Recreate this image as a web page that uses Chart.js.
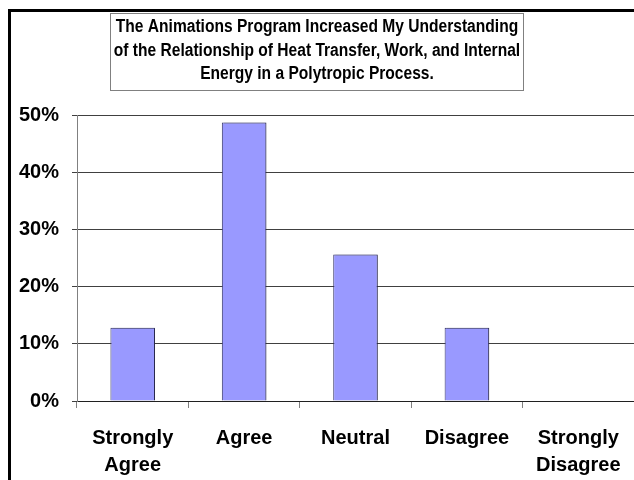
<!DOCTYPE html>
<html>
<head>
<meta charset="utf-8">
<script src="https://cdn.jsdelivr.net/npm/chart.js@4.4.0/dist/chart.umd.min.js"></script>
<style>
  html, body { margin: 0; padding: 0; background: #fff; }
  canvas { display: block; }
</style>
</head>
<body>
<canvas id="chart" width="634" height="480"></canvas>
<script>
// Survey answers, percent of respondents
const categories = [['Strongly', 'Agree'], 'Agree', 'Neutral', 'Disagree', ['Strongly', 'Disagree']];
const shares = [12.8, 48.7, 25.6, 12.8, 0];
const yTicks = [0, 10, 20, 30, 40, 50];
const titleLines = [
  'The Animations Program Increased My Understanding',
  'of the Relationship of Heat Transfer, Work, and Internal',
  'Energy in a Polytropic Process.'
];

// Frame around the whole picture, boxed title in a condensed face
const framePlugin = {
  id: 'frame',
  beforeDraw(chart) {
    const ctx = chart.ctx;
    ctx.save();
    ctx.fillStyle = '#fff';
    ctx.fillRect(0, 0, chart.width, chart.height);
    ctx.strokeStyle = '#000';
    ctx.lineWidth = 3;
    ctx.beginPath();
    ctx.moveTo(9.5, chart.height);
    ctx.lineTo(9.5, 10.5);
    ctx.lineTo(chart.width, 10.5);
    ctx.stroke();
    ctx.strokeStyle = '#808080';
    ctx.lineWidth = 1;
    ctx.strokeRect(110.5, 13.5, 413, 77);

    // squeeze the text sideways, the original uses a narrow bold face
    ctx.font = 'bold 18px "Liberation Sans", Arial, sans-serif';
    ctx.fillStyle = '#000';
    ctx.textAlign = 'center';
    ctx.textBaseline = 'alphabetic';
    const cx = 317;
    const squeeze = 0.865;
    ctx.translate(cx, 0);
    ctx.scale(squeeze, 1);
    titleLines.forEach((line, i) => {
      ctx.fillText(line, 0, 32 + i * 23.5);
    });
    ctx.restore();
  }
};

// Light shadow on the right side of the bars
const shadowPlugin = {
  id: 'barShadow',
  beforeDatasetsDraw(chart) {
    const ctx = chart.ctx;
    ctx.save();
    ctx.shadowColor = 'rgba(0,0,0,0.25)';
    ctx.shadowOffsetX = 2;
    ctx.shadowOffsetY = 0;
    ctx.shadowBlur = 0;
  },
  afterDatasetsDraw(chart) {
    chart.ctx.restore();
  }
};

new Chart(document.getElementById('chart'), {
  type: 'bar',
  data: {
    labels: categories,
    datasets: [{
      data: shares,
      backgroundColor: '#9999ff',
      borderColor: '#333366',
      borderWidth: 1,
      barPercentage: 0.4,
      categoryPercentage: 1
    }]
  },
  options: {
    responsive: false,
    animation: false,
    layout: {
      padding: { left: 0, right: 0, top: 115, bottom: 0 }
    },
    plugins: {
      legend: { display: false },
      tooltip: { enabled: false },
      title: { display: false }
    },
    scales: {
      x: {
        afterFit(axis) {
          axis.height = 79;
          axis.paddingLeft = 0;
          axis.paddingRight = 0;
        },
        grid: {
          offset: true,
          drawOnChartArea: false,
          drawTicks: true,
          tickLength: 7,
          color: '#808080'
        },
        border: { color: '#202020', width: 1 },
        ticks: {
          color: '#000',
          maxRotation: 0,
          autoSkip: false,
          padding: 17,
          font: { family: '"Liberation Sans", Arial, sans-serif', size: 20, weight: 'bold', lineHeight: 1.35 }
        }
      },
      y: {
        min: 0,
        max: 50,
        afterBuildTicks(axis) {
          axis.ticks = yTicks.map(v => ({ value: v }));
        },
        afterFit(axis) { axis.width = 77; },
        grid: {
          color: '#404040',
          tickLength: 5
        },
        border: { color: '#808080', width: 1 },
        ticks: {
          color: '#000',
          padding: 13,
          callback: v => v + '%',
          font: { family: '"Liberation Sans", Arial, sans-serif', size: 20, weight: 'bold' }
        }
      }
    }
  },
  plugins: [framePlugin, shadowPlugin]
});
</script>
</body>
</html>
